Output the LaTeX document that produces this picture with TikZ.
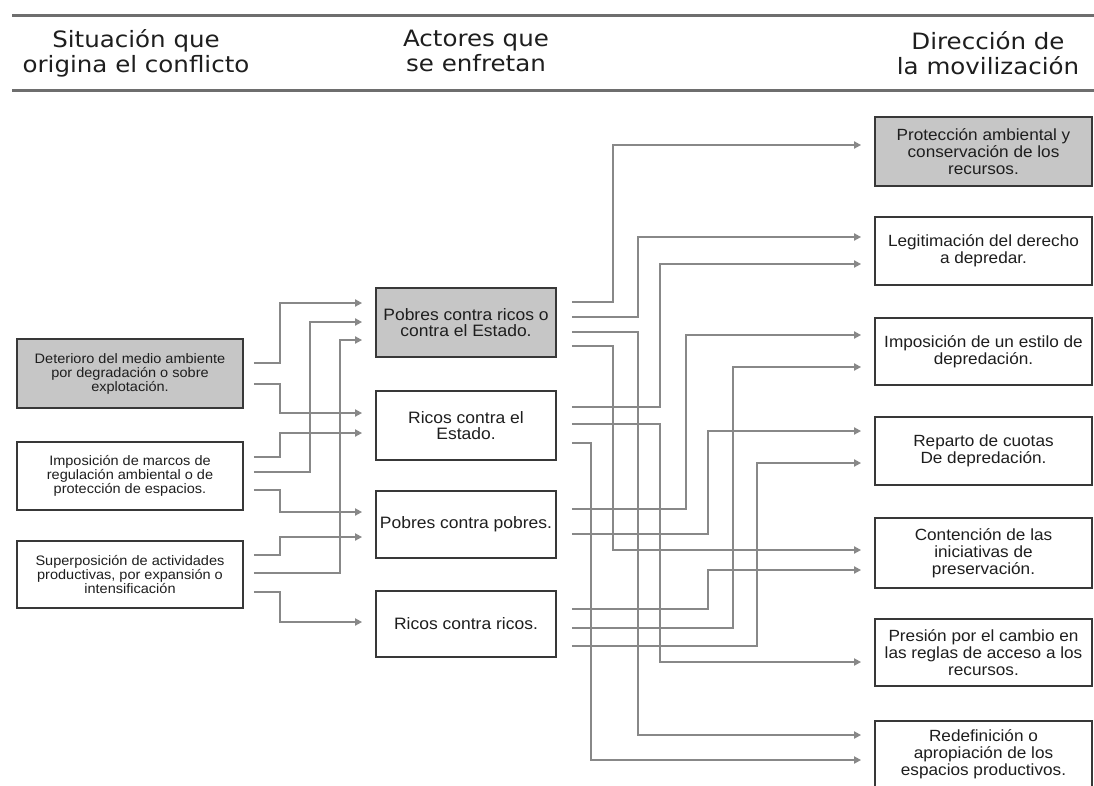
\documentclass[tikz,border=0pt]{standalone}
\usepackage{fontspec}
\setmainfont{Liberation Sans}
\newfontfamily\headfont{DejaVu Sans}[FakeStretch=1.09]
\newfontfamily\boxfont{Liberation Sans}[FakeStretch=1.06]
\usetikzlibrary{arrows.meta}
\definecolor{linegray}{HTML}{888888}
\definecolor{boxgray}{HTML}{C6C6C6}
\definecolor{framec}{HTML}{383838}
\definecolor{ink}{HTML}{1E1E1E}
\definecolor{rulec}{HTML}{6E6E6E}
\begin{document}
\begin{tikzpicture}[x=1pt,y=-1pt,
  cbox/.style={draw=framec, line width=1.8pt, fill=white, inner sep=0pt, align=center, text=ink},
  lbox/.style={cbox, minimum width=226pt, font=\boxfont\fontsize{13.7}{14}\selectfont},
  mbox/.style={cbox, minimum width=180pt, font=\boxfont\fontsize{16.5}{16.5}\selectfont},
  rbox/.style={cbox, minimum width=217pt, font=\boxfont\fontsize{16.2}{17}\selectfont},
  head/.style={font=\headfont\fontsize{22.5}{25}\selectfont, align=center, text=ink, inner sep=0pt},
  conn/.style={draw=linegray, line width=2.1pt, -{Triangle[length=7pt,width=7pt]}},
  lconn/.style={conn, shorten <=10pt, shorten >=13pt},
  rconn/.style={conn, shorten <=15pt, shorten >=13pt},
  hrule/.style={draw=rulec, line width=3pt}]
\useasboundingbox (0,0) rectangle (1094,785);
\fill[white] (0,0) rectangle (1094,785);

% header
\coordinate (t1) at (12,15);
\coordinate (t2) at (1094,15);
\coordinate (b1) at (12,90);
\coordinate (b2) at (1094,90);
\draw[hrule] (t1) -- (t2);
\draw[hrule] (b1) -- (b2);
\node[head] (h1) at (136,53) {Situación que\\origina el conflicto};
\node[head] (h2) at (476,51) {Actores que\\se enfretan};
\node[head] (h3) at (988,53) {Dirección de\\la movilización};

% left column
\node[lbox, fill=boxgray, minimum height=69pt] (l1) at (130,373.5) {Deterioro del medio ambiente\\por degradación o sobre\\explotación.};
\node[lbox, minimum height=68pt] (l2) at (130,476) {Imposición de marcos de\\regulación ambiental o de\\protección de espacios.};
\node[lbox, minimum height=67pt] (l3) at (130,574.5) {Superposición de actividades\\productivas, por expansión o\\intensificación};

% middle column
\node[mbox, fill=boxgray, minimum height=69pt] (m1) at (466,322.5) {Pobres contra ricos o\\contra el Estado.};
\node[mbox, minimum height=69pt] (m2) at (466,425.5) {Ricos contra el\\Estado.};
\node[mbox, minimum height=67pt] (m3) at (466,524.5) {Pobres contra pobres.};
\node[mbox, minimum height=66pt] (m4) at (466,624) {Ricos contra ricos.};

% right column
\node[rbox, fill=boxgray, minimum height=69pt] (r1) at (983.5,151.5) {Protección ambiental y\\conservación de los\\recursos.};
\node[rbox, minimum height=68pt] (r2) at (983.5,251) {Legitimación del derecho\\a depredar.};
\node[rbox, minimum height=67pt] (r3) at (983.5,351.5) {Imposición de un estilo de\\depredación.};
\node[rbox, minimum height=68pt] (r4) at (983.5,451) {Reparto de cuotas\\De depredación.};
\node[rbox, minimum height=70pt] (r5) at (983.5,553) {Contención de las\\iniciativas de\\preservación.};
\node[rbox, minimum height=67pt] (r6) at (983.5,652.5) {Presión por el cambio en\\las reglas de acceso a los\\recursos.};
\node[rbox, minimum height=66pt] (r7) at (983.5,754) {Redefinición o\\apropiación de los\\espacios productivos.};

% left -> middle
\draw[lconn] (l1.east |- 0,363) -| (280,303) -- (m1.west |- 0,303);
\draw[lconn] (l1.east |- 0,384) -| (280,413) -- (m2.west |- 0,413);
\draw[lconn] (l2.east |- 0,457) -| (280,433) -- (m2.west |- 0,433);
\draw[lconn] (l2.east |- 0,472) -| (310,322) -- (m1.west |- 0,322);
\draw[lconn] (l2.east |- 0,490) -| (280,512) -- (m3.west |- 0,512);
\draw[lconn] (l3.east |- 0,555) -| (280,537) -- (m3.west |- 0,537);
\draw[lconn] (l3.east |- 0,573) -| (340,340) -- (m1.west |- 0,340);
\draw[lconn] (l3.east |- 0,592) -| (280,622) -- (m4.west |- 0,622);

% middle -> right
\draw[rconn] (m1.east |- 0,302) -| (613,145) -- (r1.west |- 0,145);
\draw[rconn] (m1.east |- 0,317) -| (638,237) -- (r2.west |- 0,237);
\draw[rconn] (m1.east |- 0,332) -| (638,735) -- (r7.west |- 0,735);
\draw[rconn] (m1.east |- 0,346) -| (613,550) -- (r5.west |- 0,550);
\draw[rconn] (m2.east |- 0,407) -| (660,264) -- (r2.west |- 0,264);
\draw[rconn] (m2.east |- 0,424) -| (660,662) -- (r6.west |- 0,662);
\draw[rconn] (m2.east |- 0,443) -| (591,760) -- (r7.west |- 0,760);
\draw[rconn] (m3.east |- 0,509) -| (686,335) -- (r3.west |- 0,335);
\draw[rconn] (m3.east |- 0,534) -| (708,431) -- (r4.west |- 0,431);
\draw[rconn] (m4.east |- 0,609) -| (708,570) -- (r5.west |- 0,570);
\draw[rconn] (m4.east |- 0,628) -| (733,367) -- (r3.west |- 0,367);
\draw[rconn] (m4.east |- 0,646) -| (757,463) -- (r4.west |- 0,463);
\end{tikzpicture}
\end{document}
